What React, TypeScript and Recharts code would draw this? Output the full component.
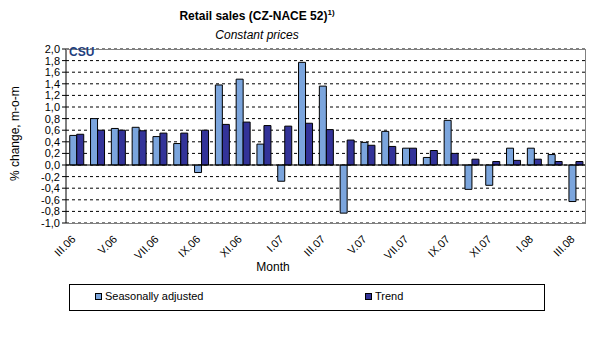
import React from "react";
import { BarChart, Bar, XAxis, YAxis, CartesianGrid, ReferenceLine } from "recharts";

const months = [
  "III.06", "IV.06", "V.06", "VI.06", "VII.06", "VIII.06", "IX.06", "X.06", "XI.06", "XII.06",
  "I.07", "II.07", "III.07", "IV.07", "V.07", "VI.07", "VII.07", "VIII.07", "IX.07", "X.07",
  "XI.07", "XII.07", "I.08", "II.08", "III.08",
];
const seasonallyAdjusted = [
  0.51, 0.8, 0.63, 0.65, 0.49, 0.37, -0.13, 1.38, 1.48, 0.36,
  -0.28, 1.77, 1.36, -0.83, 0.39, 0.58, 0.29, 0.13, 0.77, -0.42,
  -0.35, 0.29, 0.29, 0.18, -0.63,
];
const trend = [
  0.53, 0.6, 0.6, 0.59, 0.55, 0.55, 0.6, 0.7, 0.74, 0.68,
  0.67, 0.72, 0.61, 0.43, 0.34, 0.32, 0.29, 0.25, 0.2, 0.1,
  0.06, 0.08, 0.1, 0.06, 0.06,
];
const yTicks = [-1.0, -0.8, -0.6, -0.4, -0.2, 0.0, 0.2, 0.4, 0.6, 0.8, 1.0, 1.2, 1.4, 1.6, 1.8, 2.0];

const data = months.map((m, i) => ({ month: m, sa: seasonallyAdjusted[i], trend: trend[i] }));

const FONT = "'Liberation Sans', Arial, sans-serif";
const SA_COLOR = "#7BA5DD";
const TREND_COLOR = "#333399";

const XTick = (props: any) => {
  const { x, y, payload } = props;
  const ax = x - 3;
  const ay = y + 6;
  return (
    <text
      x={ax}
      y={ay}
      transform={`rotate(-45, ${ax}, ${ay})`}
      textAnchor="end"
      dominantBaseline="central"
      fontSize={11}
      fontFamily={FONT}
      fill="#000"
    >
      {payload.value}
    </text>
  );
};

const LegendBox = () => (
  <div
    style={{
      position: "absolute",
      left: 69,
      top: 284,
      width: 474,
      height: 25,
      border: "1px solid #000",
      fontFamily: FONT,
      fontSize: 11,
      background: "#fff",
    }}
  >
    <div style={{ position: "absolute", left: 25, top: 5, display: "flex", alignItems: "center" }}>
      <span style={{ width: 5, height: 5, background: SA_COLOR, border: "1px solid #000", marginRight: 3, display: "inline-block" }} />
      <span>Seasonally adjusted</span>
    </div>
    <div style={{ position: "absolute", left: 295, top: 5, display: "flex", alignItems: "center" }}>
      <span style={{ width: 5, height: 5, background: TREND_COLOR, border: "1px solid #000", marginRight: 3, display: "inline-block" }} />
      <span>Trend</span>
    </div>
  </div>
);

export default function App() {
  return (
    <div style={{ position: "absolute", left: 0, top: 0, width: 591, height: 360, background: "#fff", fontFamily: FONT }}>
      <div style={{ position: "absolute", left: 0, width: 514, top: 8, textAlign: "center", fontWeight: "bold", fontSize: 12 }}>
        Retail sales (CZ-NACE 52)<sup style={{ fontSize: 8 }}>1)</sup>
      </div>
      <div style={{ position: "absolute", left: 0, width: 514, top: 28, textAlign: "center", fontStyle: "italic", fontSize: 12 }}>
        Constant prices
      </div>
      <BarChart
        width={591}
        height={360}
        data={data}
        margin={{ top: 49, right: 5, bottom: 97, left: 0 }}
        barCategoryGap="18%"
        barGap={0}
        style={{ position: "absolute", left: 0, top: 0 }}
      >
        <CartesianGrid horizontal vertical={false} stroke="#000" strokeDasharray="3 3" />
        <XAxis
          dataKey="month"
          interval={1}
          axisLine={false}
          tickLine={false}
          height={40}
          tick={<XTick />}
          label={{ value: "Month", position: "insideBottom", offset: -8, dx: -53, fontSize: 12, fontFamily: FONT, fill: "#000" }}
        />
        <YAxis
          domain={[-1, 2]}
          ticks={yTicks}
          interval={0}
          width={66}
          axisLine={{ stroke: "#000" }}
          tickLine={{ stroke: "#000" }}
          tickSize={4}
          tickFormatter={(v: number) => v.toFixed(1).replace(".", ",")}
          tick={{ fontSize: 11, fontFamily: FONT, fill: "#000" }}
          label={{ value: "% change, m-o-m", angle: -90, position: "insideLeft", dx: 10, dy: 45, fontSize: 12, fontFamily: FONT, fill: "#000" }}
        />
        <ReferenceLine y={0} stroke="#000" />
        <Bar dataKey="sa" name="Seasonally adjusted" fill={SA_COLOR} stroke="#000" strokeWidth={1} isAnimationActive={false} />
        <Bar dataKey="trend" name="Trend" fill={TREND_COLOR} stroke="#000" strokeWidth={1} isAnimationActive={false} />
      </BarChart>
      <LegendBox />
      <div style={{ position: "absolute", left: 66, top: 49, width: 519, height: 173, borderTop: "1px solid #808080", borderRight: "1px solid #808080", borderBottom: "1px solid #808080", pointerEvents: "none" }} />
      <div style={{ position: "absolute", left: 69, top: 45, fontWeight: "bold", fontSize: 12, color: "#1F3F7F" }}>CSU</div>
    </div>
  );
}
